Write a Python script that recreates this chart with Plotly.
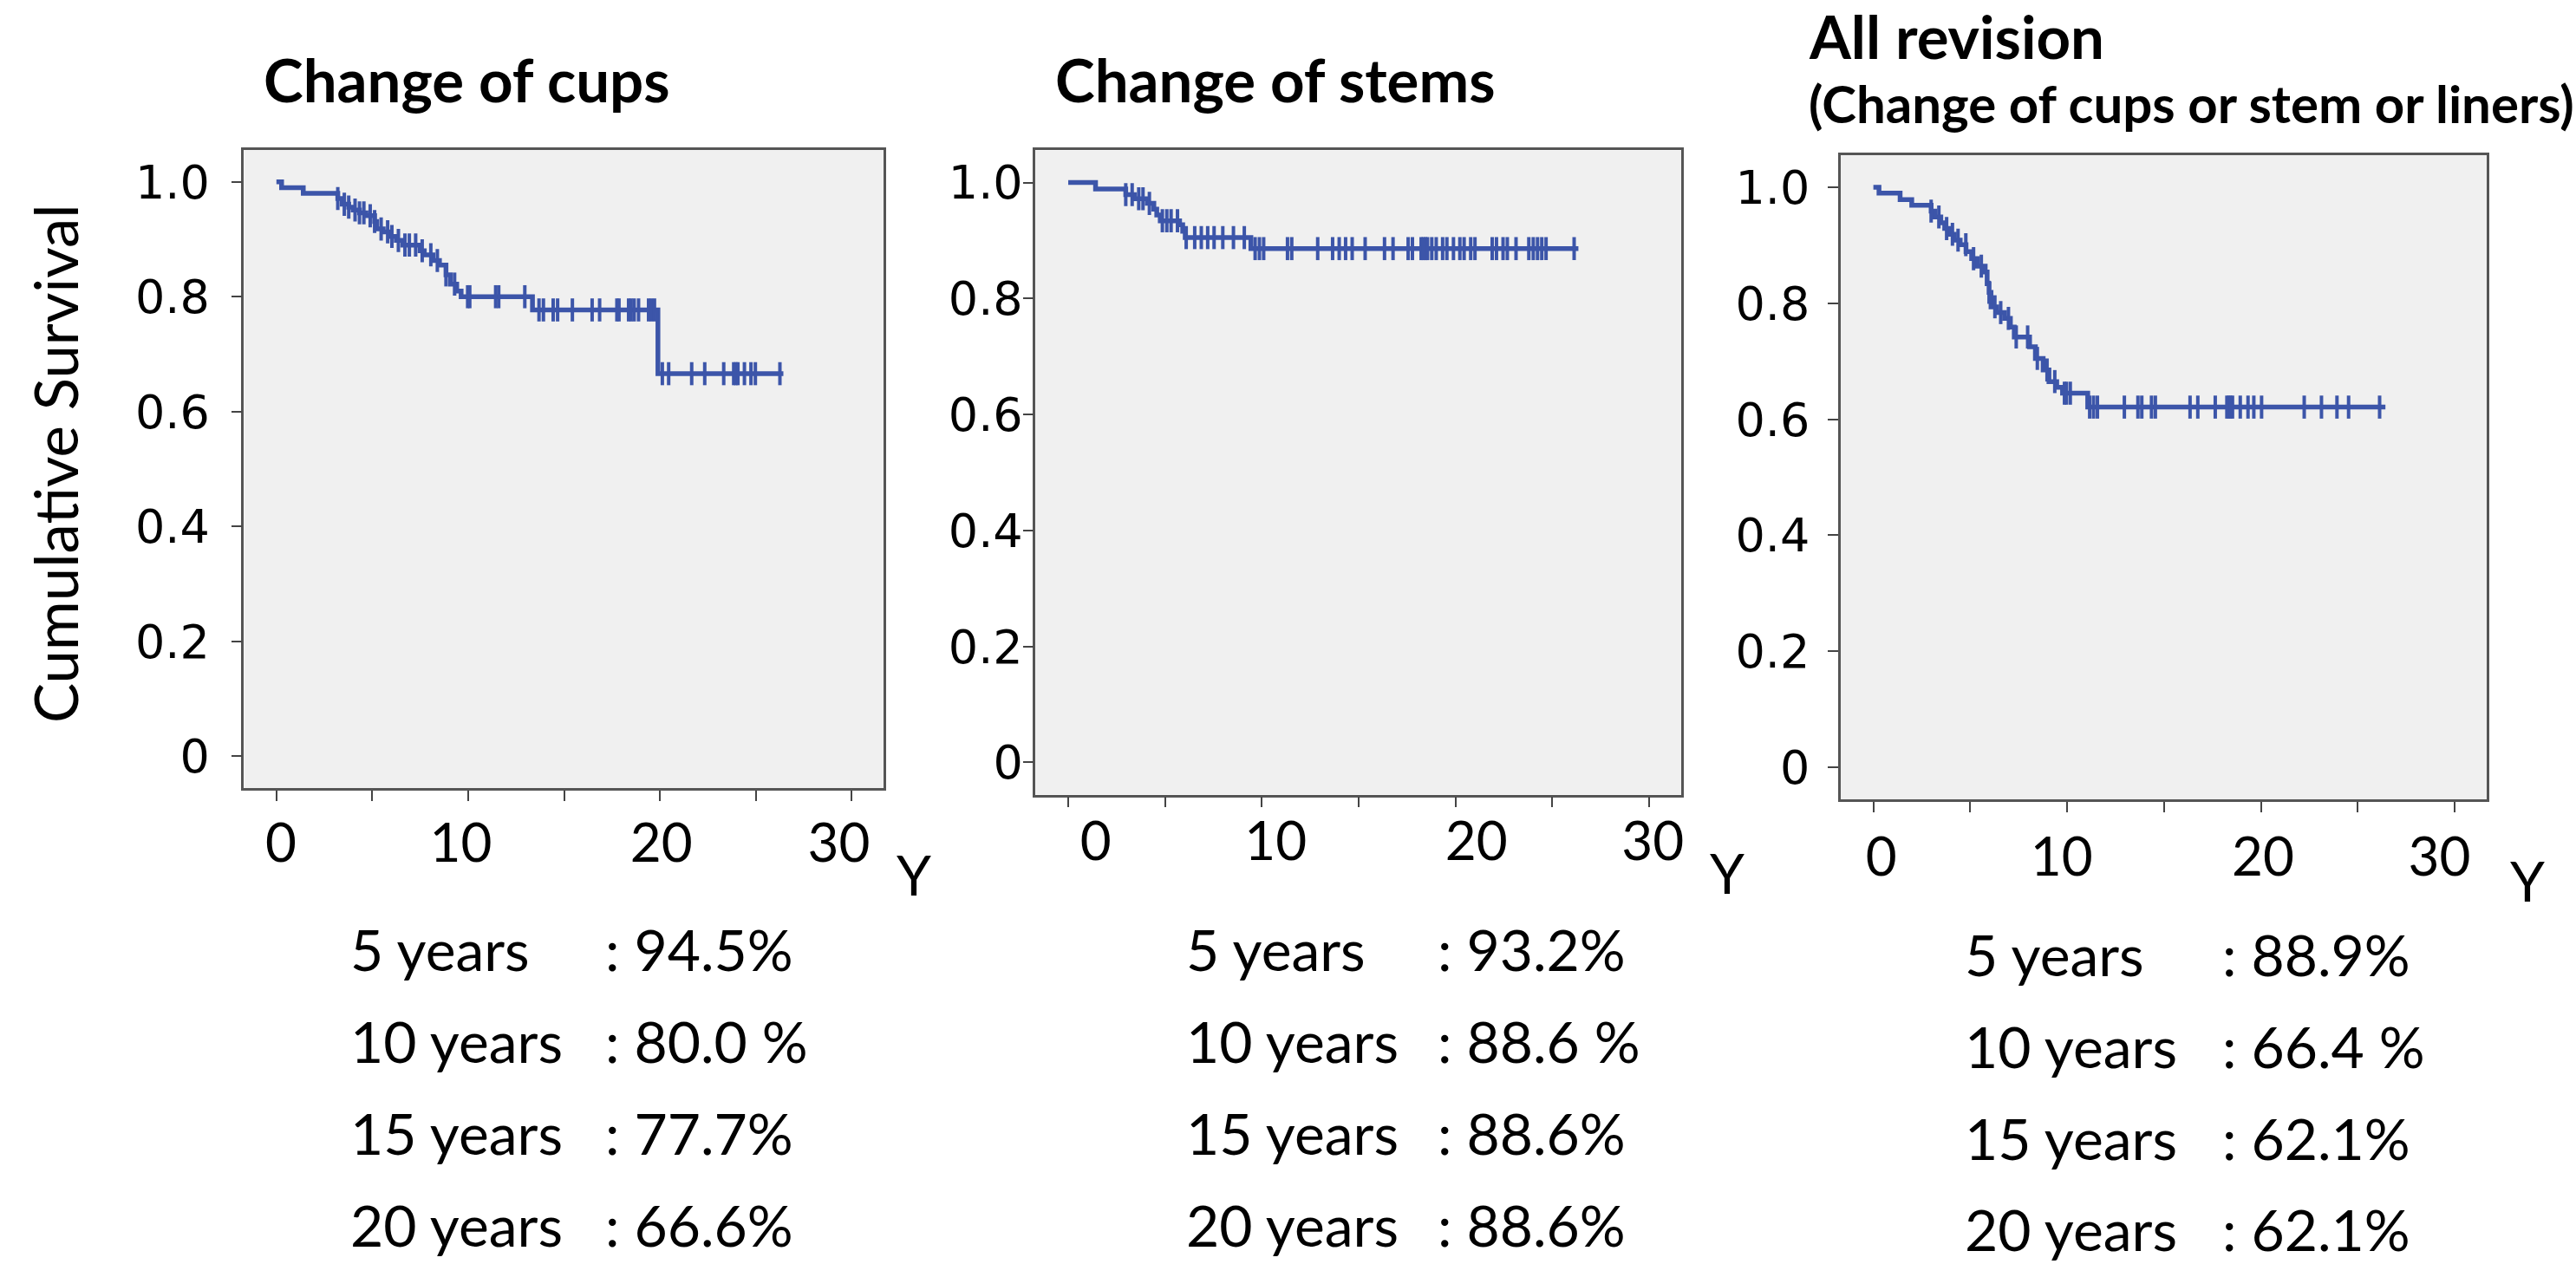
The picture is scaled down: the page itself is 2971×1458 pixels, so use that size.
import numpy as np
import plotly.graph_objects as go

# ---------------- data ----------------
panel_titles = ["Change of cups", "Change of stems", "All revision"]
panel_subtitle = "(Change of cups or stem or liners)"

cups_event_t = [0.27, 1.40, 3.20, 3.43, 3.77, 4.00, 4.33, 4.67, 5.12, 5.23, 5.57, 5.91,
                6.25, 6.59, 7.49, 7.71, 8.16, 8.50, 8.84, 9.07, 9.40, 9.63, 13.35, 19.89]
cups_event_s = [0.990, 0.980, 0.971, 0.961, 0.956, 0.951, 0.946, 0.941, 0.931, 0.918, 0.913, 0.905,
                0.898, 0.890, 0.880, 0.873, 0.863, 0.855, 0.838, 0.822, 0.810, 0.800, 0.777, 0.666]
cups_censor_t = [3.20, 3.54, 3.77, 4.10, 4.33, 4.56, 4.89, 5.12, 5.46, 5.80, 6.02, 6.36, 6.70,
                 6.93, 7.26, 7.60, 8.05, 8.39, 8.84, 9.29, 9.97, 10.08, 11.43, 11.59, 12.95,
                 13.69, 13.92, 14.43, 14.66, 15.43, 16.46, 16.85, 17.75, 17.86, 18.36, 18.49,
                 18.65, 18.88, 19.40, 19.55, 19.71, 20.12, 20.45, 21.65, 22.33, 23.32, 23.84,
                 23.95, 24.06, 24.40, 24.74, 24.97, 26.25]
cups_end = 26.43

stems_event_t = [1.41, 2.97, 3.42, 4.08, 4.42, 4.57, 4.75, 5.75, 5.91, 6.04, 9.43]
stems_event_s = [0.989, 0.979, 0.972, 0.964, 0.954, 0.944, 0.934, 0.927, 0.916, 0.905, 0.886]
stems_censor_t = [2.97, 3.30, 3.64, 3.86, 4.19, 4.86, 5.09, 5.31, 5.64, 6.09, 6.53, 6.87, 7.20,
                  7.53, 7.98, 8.53, 9.09, 9.65, 9.87, 10.09, 11.32, 11.54, 12.88, 13.65, 13.99,
                  14.32, 14.66, 15.33, 16.33, 16.77, 17.55, 17.77, 18.22, 18.33, 18.44, 18.55,
                  18.77, 19.00, 19.33, 19.55, 19.89, 20.22, 20.44, 20.78, 21.00, 21.89, 22.11,
                  22.45, 22.67, 23.12, 23.78, 24.01, 24.23, 24.45, 24.67, 26.12]
stems_end = 26.34

all_event_t = [0.29, 1.38, 1.98, 2.98, 3.18, 3.48, 3.68, 3.88, 4.18, 4.48, 4.78, 5.07, 5.37,
               5.77, 5.87, 5.97, 6.07, 6.37, 6.77, 7.07, 7.27, 8.06, 8.36, 8.76, 9.06, 9.46,
               9.76, 11.06]
all_event_s = [0.990, 0.979, 0.969, 0.959, 0.949, 0.939, 0.929, 0.919, 0.909, 0.901, 0.889,
               0.877, 0.864, 0.854, 0.834, 0.819, 0.794, 0.784, 0.774, 0.759, 0.742, 0.725,
               0.705, 0.685, 0.665, 0.655, 0.645, 0.621]
all_censor_t = [2.98, 3.38, 3.78, 4.08, 4.37, 4.77, 5.17, 5.57, 5.97, 6.27, 6.57, 6.97, 7.37,
                7.96, 8.46, 8.96, 9.36, 9.86, 9.96, 10.16, 11.16, 11.36, 11.56, 12.95, 13.65,
                13.85, 14.35, 14.55, 16.34, 16.74, 17.64, 18.24, 18.34, 18.43, 18.53, 18.93,
                19.33, 19.63, 20.03, 22.23, 23.12, 23.92, 24.52, 26.12]
all_end = 26.42

x_tick_vals = [0, 5, 10, 15, 20, 25, 30]
x_label_text = ["0", "10", "20", "30"]
y_tick_vals = [0, 0.2, 0.4, 0.6, 0.8, 1.0]
y_tick_text = ["0", "0.2", "0.4", "0.6", "0.8", "1.0"]

stat_labels = ["5 years", "10 years", "15 years", "20 years"]
cups_stats = [": 94.5%", ": 80.0 %", ": 77.7%", ": 66.6%"]
stems_stats = [": 93.2%", ": 88.6 %", ": 88.6%", ": 88.6%"]
all_stats = [": 88.9%", ": 66.4 %", ": 62.1%", ": 62.1%"]

y_axis_title = "Cumulative Survival"
x_unit = "Y"

# ---------------- layout / styling ----------------
W, H = 2971, 1458
BLUE = "#3c55a9"
FRAME = "#555555"
CAL = "Lato, 'Open Sans', sans-serif"
VER = "'DejaVu Sans', Verdana, sans-serif"

x_domains = [[281.7 / W, 1020 / W], [1195.5 / W, 1941 / W], [2125 / W, 2871 / W]]
y_domains = [[1 - 909 / H, 1 - 173 / H], [1 - 916.5 / H, 1 - 173.4 / H], [1 - 922 / H, 1 - 179 / H]]
# the x tick labels in the source are placed slightly off their tick marks
x_label_pos = [[0.23, 9.61, 20.07, 29.32], [1.42, 10.71, 21.07, 30.18], [0.41, 9.71, 20.1, 29.21]]
x_label_standoff = [22, 12, 25]
y_label_standoff = [14, -11, 10]
X_RANGE = [-1.69, 31.65]
Y_RANGE = [-0.0555, 1.0555]

fig = go.Figure()

series = [
    (cups_event_t, cups_event_s, cups_censor_t, cups_end),
    (stems_event_t, stems_event_s, stems_censor_t, stems_end),
    (all_event_t, all_event_s, all_censor_t, all_end),
]

for i, (et, es, ct, end) in enumerate(series):
    xs = [0.0] + list(et) + [end]
    ys = [1.0] + list(es) + [es[-1]]
    ax = "" if i == 0 else str(i + 1)
    fig.add_trace(go.Scatter(x=xs, y=ys, mode="lines", line=dict(color=BLUE, width=5.5, shape="hv"),
                             xaxis="x" + ax, yaxis="y" + ax, showlegend=False, hoverinfo="skip"))
    idx = np.searchsorted(np.array(et), np.array(ct), side="right")
    cy = [1.0 if k == 0 else es[k - 1] for k in idx]
    # censor marks live on the label-carrying overlay axis (same domain and range)
    fig.add_trace(go.Scatter(x=ct, y=cy, mode="markers",
                             marker=dict(symbol="line-ns", size=19, color=BLUE,
                                         line=dict(color=BLUE, width=4)),
                             xaxis="x" + str(i + 4), yaxis="y" + ax, showlegend=False,
                             hoverinfo="skip"))

layout = dict(width=W, height=H, margin=dict(l=0, r=0, t=0, b=0),
              paper_bgcolor="white", plot_bgcolor="#f0f0f0", showlegend=False)

for i in range(3):
    ax = "" if i == 0 else str(i + 1)
    layout["xaxis" + ax] = dict(domain=x_domains[i], range=X_RANGE, anchor="y" + ax,
                                tickvals=x_tick_vals, showticklabels=False, ticks="outside",
                                ticklen=12, tickwidth=2, tickcolor="#444444",
                                showline=True, mirror=True, linecolor=FRAME, linewidth=2.5,
                                showgrid=False, zeroline=False)
    layout["xaxis" + str(i + 4)] = dict(domain=x_domains[i], range=X_RANGE,
                                        anchor="y" + ax, overlaying="x" + ax, side="bottom",
                                        tickvals=x_label_pos[i], ticktext=x_label_text,
                                        ticks="", showline=False, showgrid=False, zeroline=False,
                                        ticklabelstandoff=x_label_standoff[i],
                                        tickfont=dict(family=CAL, size=62, color="black"))
    layout["yaxis" + ax] = dict(domain=y_domains[i], range=Y_RANGE, anchor="x" + ax,
                                tickvals=y_tick_vals, ticktext=y_tick_text, ticks="outside",
                                ticklen=12, tickwidth=2, tickcolor="#444444",
                                showline=True, mirror=True, linecolor=FRAME, linewidth=2.5,
                                showgrid=False, zeroline=False,
                                ticklabelstandoff=y_label_standoff[i],
                                tickfont=dict(family=VER, size=54, color="black"))

fig.update_layout(**layout)

ann = []
def px(x):
    return x / W
def py(y):
    return 1 - y / H

# titles
ann.append(dict(x=px(302), y=py(91), text="<b>" + panel_titles[0] + "</b>", font=dict(family=CAL, size=69)))
ann.append(dict(x=px(1216), y=py(91), text="<b>" + panel_titles[1] + "</b>", font=dict(family=CAL, size=69)))
ann.append(dict(x=px(2086), y=py(41), text="<b>" + panel_titles[2] + "</b>", font=dict(family=CAL, size=69)))
ann.append(dict(x=px(2086), y=py(119), text="<b>" + panel_subtitle + "</b>", font=dict(family=CAL, size=60)))

# y axis title
ann.append(dict(x=px(63), y=py(534), text=y_axis_title, textangle=-90, xanchor="center",
                font=dict(family=CAL, size=69)))

# "Y" unit labels
for (ux, uy) in [(1055, 1008), (1994, 1006), (2918, 1015)]:
    ann.append(dict(x=px(ux), y=py(uy), text=x_unit, xanchor="center", font=dict(family=CAL, size=64)))

# stats
rows_y = [[1094, 1200, 1306, 1412], [1094, 1200, 1306, 1412], [1100, 1206, 1312, 1417]]
label_x = [402, 1367, 2266]
colon_x = [697, 1658, 2564]
stats = [cups_stats, stems_stats, all_stats]
for p in range(3):
    for r in range(4):
        ann.append(dict(x=px(label_x[p]), y=py(rows_y[p][r]), text=stat_labels[r],
                        font=dict(family=CAL, size=66)))
        ann.append(dict(x=px(colon_x[p]), y=py(rows_y[p][r]), text=stats[p][r],
                        font=dict(family=CAL, size=66)))

for a in ann:
    a.setdefault("xanchor", "left")
    a.setdefault("yanchor", "middle")
    a["xref"] = "paper"
    a["yref"] = "paper"
    a["showarrow"] = False
    a["font"].setdefault("color", "black")

fig.update_layout(annotations=ann)

fig.write_html("out.html", config={"displayModeBar": False},
               post_script="document.body.style.margin='0';")
